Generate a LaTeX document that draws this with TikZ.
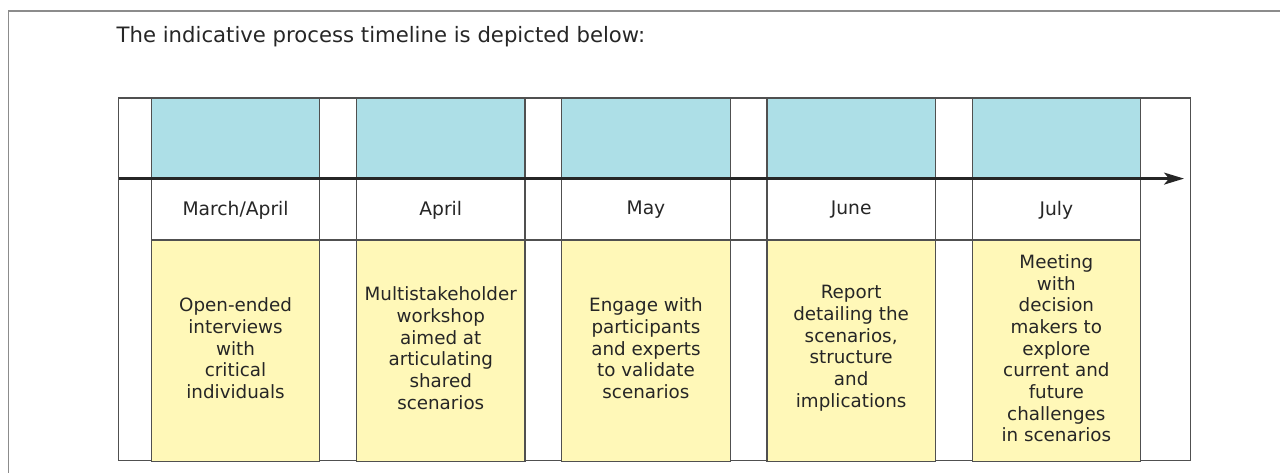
\documentclass[tikz,border=0pt]{standalone}
\usepackage{fontspec}
\setmainfont{DejaVu Sans}
\usetikzlibrary{arrows.meta}
\definecolor{cellblue}{HTML}{ADDFE7}
\definecolor{cellyellow}{HTML}{FFF8B8}
\definecolor{framegray}{HTML}{8C8C8C}
\definecolor{gridgray}{HTML}{505050}
\definecolor{txt}{HTML}{262626}
\tikzset{
  cellbase/.style={anchor=north west, inner sep=0pt, minimum width=168.4pt, draw=gridgray, line width=1.1pt, text=txt, align=center},
  bluecell/.style={cellbase, fill=cellblue, minimum height=80.5pt},
  monthcell/.style={cellbase, fill=white, minimum height=61pt, font=\fontsize{18.7}{22}\selectfont},
  taskcell/.style={cellbase, fill=cellyellow, minimum height=220.5pt},
  tasktext/.style={inner sep=0pt, text=txt, align=center, font=\fontsize{18.3}{21.7}\selectfont},
  tableline/.style={draw=gridgray, line width=1.1pt},
  axisline/.style={draw=black!85, line width=2.2pt, -{Stealth[length=20pt,width=12pt,inset=5pt]}}
}
\begin{document}
\begin{tikzpicture}[x=1pt,y=-1pt]
\useasboundingbox (0,0) rectangle (1280,473);
\clip (0,0) rectangle (1280,473);
% outer frame
\coordinate (fBL) at (8.5,480);
\coordinate (fTR) at (1290,11);
\draw[framegray, line width=1.3pt] (fBL) |- (fTR);
% title
\node[anchor=base west, inner sep=0pt, text=txt, font=\fontsize{21.2}{25}\selectfont] (title) at (116.5,43) {The indicative process timeline is depicted below:};
% table frame
\draw[tableline] (118.5,98) rectangle (1190.5,460.5);
% columns
\foreach \i/\m/\t in {
  1/{March/April}/{Open-ended\\interviews\\with\\critical\\individuals},
  2/{April}/{Multistakeholder\\workshop\\aimed at\\articulating\\shared\\scenarios},
  3/{May}/{Engage with\\participants\\and experts\\to validate\\scenarios},
  4/{June}/{Report\\detailing the\\scenarios,\\structure\\and\\implications},
  5/{July}/{Meeting\\with\\decision\\makers to\\explore\\current and\\future\\challenges\\in scenarios}}{
  \pgfmathsetmacro{\xs}{150.8+(\i-1)*205.2}
  \node[bluecell] (b\i) at (\xs,98) {};
  \node[monthcell] (m\i) at (\xs,179) {\m};
  \node[taskcell] (t\i) at (\xs,240) {};
  \node[tasktext] (tt\i) at ([yshift=2.5pt]t\i.center) {\t};
}
% line under the month row, across the gaps
\draw[tableline] (t1.north west) -- (t5.north east);
% axis
\coordinate (axL) at (118.5,178.6);
\coordinate (axR) at (1184,178.6);
\draw[axisline] (axL) -- (axR);
\end{tikzpicture}
\end{document}
